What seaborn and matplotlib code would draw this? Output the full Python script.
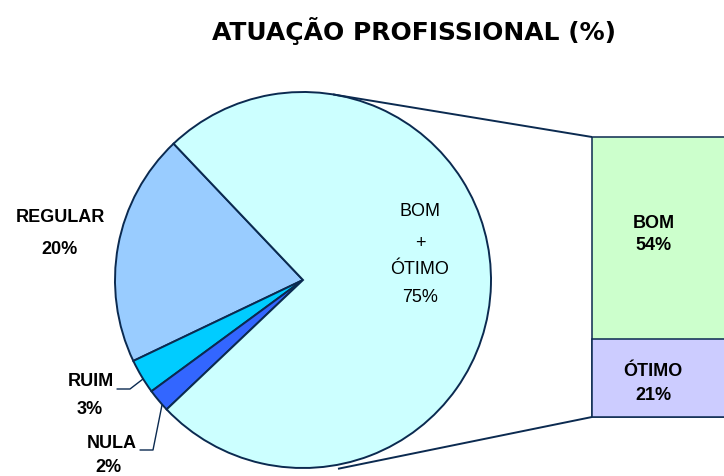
import numpy as np
import pandas as pd
import matplotlib
matplotlib.use("Agg")
import matplotlib.pyplot as plt
import seaborn as sns

# ---- data -------------------------------------------------------------
pie_labels = ["REGULAR", "RUIM", "NULA", "BOM + ÓTIMO"]
pie_values = [20, 3, 2, 75]
pie_colors = ["#99CCFF", "#00CCFF", "#3366FF", "#CCFFFF"]

bar_labels = ["ÓTIMO", "BOM"]
bar_values = [21, 54]
bar_colors = ["#CCCCFF", "#CCFFCC"]

title = "ATUAÇÃO PROFISSIONAL (%)"

# ---- style ------------------------------------------------------------
sns.set_theme(style="white")
plt.rcParams["font.family"] = ["Liberation Sans", "DejaVu Sans"]

EDGE = "#0B2A50"
W, H = 724, 476
fig = plt.figure(figsize=(W / 100, H / 100), dpi=100)
fig.patch.set_facecolor("white")

# main axes in pixel units (y measured from the top)
ax = fig.add_axes([0, 0, 1, 1], zorder=2)
ax.patch.set_alpha(0)


def py(y):
    return H - y


cx, cy, r = 303, 280, 188
ax.pie(pie_values, colors=pie_colors, startangle=133.5, counterclock=True,
       center=(cx, py(cy)), radius=r,
       wedgeprops=dict(edgecolor=EDGE, linewidth=1.4))
ax.set_xlim(0, W)
ax.set_ylim(0, H)
ax.set_aspect("equal")
ax.set_axis_off()

# ---- stacked column for the BOM + ÓTIMO slice --------------------------
bar_left, bar_top, bar_bottom, bar_right = 592, 137, 417, 790
bax = fig.add_axes([bar_left / W, (H - bar_bottom) / H,
                    (bar_right - bar_left) / W, (bar_bottom - bar_top) / H],
                   zorder=1)
total = sum(bar_values)
df_total = pd.DataFrame({"grupo": ["x"], "valor": [total]})
df_low = pd.DataFrame({"grupo": ["x"], "valor": [bar_values[0]]})
sns.barplot(data=df_total, x="grupo", y="valor", color=bar_colors[1],
            saturation=1, width=1, edgecolor=EDGE, linewidth=1.1, ax=bax)
sns.barplot(data=df_low, x="grupo", y="valor", color=bar_colors[0],
            saturation=1, width=1, edgecolor=EDGE, linewidth=1.1, ax=bax)
for p in bax.patches:
    p.set_clip_on(False)
bax.set_xlim(-0.5, 0.5)
bax.set_ylim(0, total)
bax.set_axis_off()

# connector lines from the pie to the column
a_top, a_bot = np.deg2rad(80.8), np.deg2rad(-79.5)
ax.plot([cx + r * np.cos(a_top), bar_left],
        [py(cy) + r * np.sin(a_top), py(bar_top)],
        color=EDGE, lw=1.4, solid_capstyle="butt")
ax.plot([cx + 192 * np.cos(a_bot), bar_left],
        [py(cy) + 192 * np.sin(a_bot), py(bar_bottom)],
        color=EDGE, lw=1.4, solid_capstyle="butt")

# ---- labels -----------------------------------------------------------
bold = dict(fontsize=13, fontweight="bold", ha="center", va="center",
            color="black")
ax.text(60, py(218), pie_labels[0], **bold)
ax.text(60, py(249), f"{pie_values[0]}%", **bold)
ax.text(91, py(382), pie_labels[1], **bold)
ax.text(90, py(409), f"{pie_values[1]}%", **bold)
ax.text(112, py(443), pie_labels[2], **bold)
ax.text(108, py(468), f"{pie_values[2]}%", **bold)

# leader lines for the small slices
ax.plot([117, 130, 143], [py(389), py(389), py(379)], color=EDGE, lw=1.0)
ax.plot([140, 153, 162], [py(450), py(450), py(405)], color=EDGE, lw=1.0)

big = dict(fontsize=13, ha="center", va="center", color="black")
top_word, bottom_word = pie_labels[3].split(" + ")
ax.text(420, py(212), top_word, **big)
ax.text(420, py(243), "+", **big)
ax.text(420, py(270), bottom_word, **big)
ax.text(420, py(298), f"{pie_values[3]}%", **big)

ax.text(654, py(223), bar_labels[1], **bold)
ax.text(654, py(245), f"{bar_values[1]}%", **bold)
ax.text(653, py(372), bar_labels[0], **bold)
ax.text(653, py(396), f"{bar_values[0]}%", **bold)

ax.text(414, py(40), title, fontsize=18, fontweight="bold",
        family="DejaVu Sans", ha="center", va="baseline", color="black")

fig.savefig("out.png", dpi=100, facecolor="white")
